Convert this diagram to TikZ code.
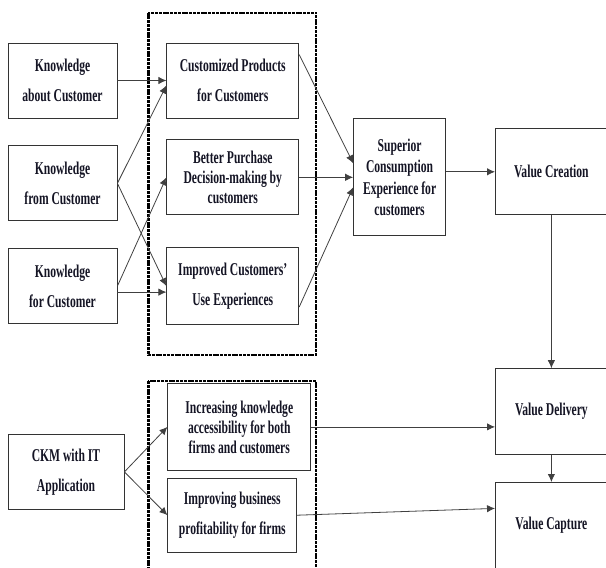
\documentclass[tikz,border=0pt]{standalone}
\usepackage{fontspec}
\setmainfont{Liberation Serif}[FakeStretch=0.645]
\usepackage{tikz}
\usetikzlibrary{arrows.meta,positioning}
\definecolor{inkblue}{RGB}{20,20,36}
\tikzset{%
  >={Latex[width=2.6mm,length=2.8mm]},
  % Specifications for style of nodes:
         base/.style = {rectangle, draw=black!80, line width=0.8pt,
                        text=inkblue, text centered, inner sep=2pt,
                        font=\fontsize{18}{20}\selectfont\bfseries},
       spread/.style = {base, font=\fontsize{18}{30}\selectfont\bfseries},
    knowledge/.style = {spread, minimum width=109pt, minimum height=75pt},
      outcome/.style = {spread, minimum width=132pt, minimum height=75pt},
        value/.style = {base, minimum width=112pt, minimum height=86pt},
  % Specifications for style of lines:
      dashbox/.style = {draw=black, line width=2.2pt,
                        dash pattern=on 3pt off 0.8pt},
         link/.style = {->, line width=0.8pt, draw=black!75},
}

\begin{document}
\begin{tikzpicture}[x=1pt, y=1pt, node distance=27pt, align=center]
  \useasboundingbox (0,0) rectangle (606,-568);
  \node (kAbout)      [knowledge] at (62.5,-80.5)                              {Knowledge\\about Customer};
  \node (kFrom)       [knowledge, below=of kAbout]                             {Knowledge\\from Customer};
  \node (kFor)        [knowledge, below=of kFrom]                              {Knowledge\\for Customer};
  \node (custProd)    [outcome, right=49pt of kAbout]                          {Customized Products\\for Customers};
  \node (betterDec)   [outcome, base, right=49pt of kFrom, yshift=6pt]         {Better Purchase\\Decision-making by\\customers};
  \node (improvedUse) [outcome, right=49pt of kFor, minimum height=77pt]       {Improved Customers'\\Use Experiences};
  \node (superior)    [base, right=54pt of betterDec, minimum width=92pt,
                       minimum height=117pt,
                       font=\fontsize{18}{21.5}\selectfont\bfseries]           {Superior\\Consumption\\Experience for\\customers};
  \node (vCreation)   [value, right=49pt of superior, yshift=5.5pt]            {Value Creation};
  \node (vDelivery)   [value, below=153pt of vCreation]                        {Value Delivery};
  \node (vCapture)    [value, below=27pt of vDelivery]                         {Value Capture};
  \node (ckm)         [knowledge, minimum width=116pt,
                       below=110pt of kFor.south west, anchor=north west]      {CKM with IT\\Application};
  \node (increasing)  [base, minimum width=143pt, minimum height=87pt,
                       right=43pt of ckm, yshift=45pt]                         {Increasing knowledge\\accessibility for both\\firms and customers};
  \node (improving)   [spread, minimum width=129pt, minimum height=74pt,
                       below=7pt of increasing.south west, anchor=north west]  {Improving business\\profitability for firms};

  % dashed groups
  \draw[dashbox] ([xshift=-18pt,yshift=30pt]custProd.north west) rectangle ([xshift=17pt,yshift=-30pt]improvedUse.south east);
  \draw[dashbox] ([xshift=-19pt,yshift=2pt]increasing.north west) rectangle ([xshift=5pt,yshift=-18pt]increasing.east |- improving.south);

  \draw[link] (kAbout) -- (custProd);
  \draw[link] (kFrom.east) -- ([yshift=-5pt]custProd.west);
  \draw[link] (kFrom.east) -- (improvedUse.west);
  \draw[link] (kFor.east) -- (betterDec.west);
  \draw[link] ([yshift=-6pt]kFor.east) -- ([yshift=-6pt]improvedUse.west);
  \draw[link] ([yshift=-12pt]custProd.north east) -- ([yshift=14pt]superior.west);
  \draw[link] (betterDec) -- (superior);
  \draw[link] ([yshift=18pt]improvedUse.south east) -- ([yshift=-10pt]superior.west);
  \draw[link] (superior.east |- vCreation.west) -- (vCreation.west);
  \draw[link] (vCreation) -- (vDelivery);
  \draw[link] (vDelivery) -- (vCapture);
  \draw[link] (ckm.east) -- (increasing.west);
  \draw[link] (ckm.east) -- (improving.west);
  \draw[link] (increasing.east) -- (increasing.east -| vDelivery.west);
  \draw[link] (improving.east) -- ([yshift=17pt]vCapture.west);
\end{tikzpicture}
\end{document}
